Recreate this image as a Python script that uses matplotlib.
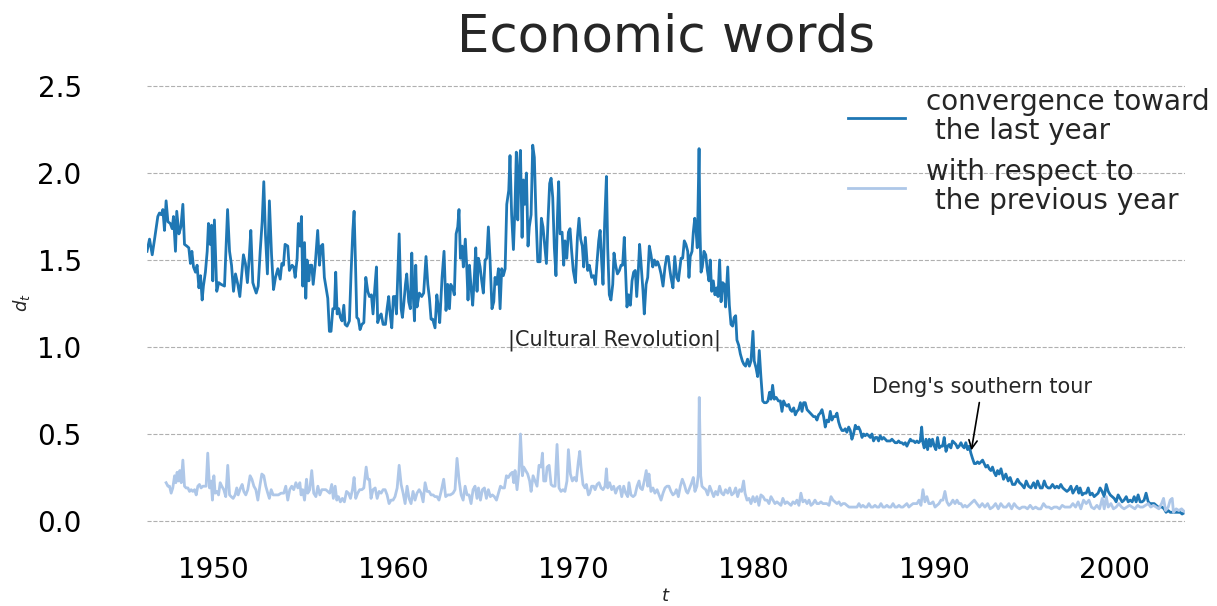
import matplotlib
matplotlib.use("Agg")
import matplotlib.pyplot as plt
from matplotlib.ticker import FormatStrFormatter

# Economic-word distance d_t, convergence toward the last year (dark series)
conv_years = [
    1946.33, 1946.47, 1946.62, 1946.75, 1946.93, 1947.02, 1947.12, 1947.21, 1947.30, 1947.39,
    1947.49, 1947.62, 1947.73, 1947.80, 1947.91, 1947.98, 1948.10, 1948.21, 1948.32, 1948.41,
    1948.54, 1948.65, 1948.74, 1948.82, 1948.91, 1949.02, 1949.11, 1949.21, 1949.30, 1949.39,
    1949.46, 1949.57, 1949.67, 1949.74, 1949.83, 1949.91, 1949.98, 1950.07, 1950.20, 1950.31,
    1950.44, 1950.63, 1950.80, 1950.91, 1951.02, 1951.13, 1951.24, 1951.37, 1951.48, 1951.59,
    1951.68, 1951.79, 1951.90, 1952.00, 1952.09, 1952.20, 1952.29, 1952.39, 1952.50, 1952.61,
    1952.72, 1952.81, 1952.90, 1953.01, 1953.12, 1953.24, 1953.35, 1953.46, 1953.59, 1953.72,
    1953.81, 1953.90, 1953.99, 1954.14, 1954.23, 1954.38, 1954.47, 1954.55,
    1954.66, 1954.73, 1954.82, 1954.90, 1954.97, 1955.07, 1955.14, 1955.21, 1955.31, 1955.38,
    1955.47, 1955.55, 1955.66, 1955.80, 1955.90, 1955.99, 1956.08, 1956.17, 1956.36, 1956.45,
    1956.54, 1956.64, 1956.73, 1956.80, 1956.88, 1956.97, 1957.06, 1957.15, 1957.25, 1957.32,
    1957.43, 1957.56, 1957.65, 1957.75, 1957.82, 1957.89, 1957.97, 1958.06, 1958.15, 1958.25,
    1958.36, 1958.47, 1958.58, 1958.67, 1958.78, 1958.87, 1958.97, 1959.06, 1959.13, 1959.22,
    1959.32, 1959.43, 1959.56, 1959.65, 1959.74, 1959.82, 1959.91, 1960.00, 1960.09, 1960.17,
    1960.24, 1960.32, 1960.43, 1960.50, 1960.57, 1960.67, 1960.74, 1960.85, 1960.94, 1961.02,
    1961.09, 1961.17, 1961.24, 1961.31, 1961.44, 1961.57, 1961.68, 1961.81, 1961.91, 1962.00,
    1962.09, 1962.18, 1962.31, 1962.41, 1962.50, 1962.57,
    1962.70, 1962.81, 1962.92, 1963.01, 1963.11, 1963.18, 1963.29, 1963.38, 1963.48, 1963.57,
    1963.64, 1963.72, 1963.81, 1963.88, 1963.99, 1964.07, 1964.14, 1964.22, 1964.31, 1964.40,
    1964.49, 1964.57, 1964.64, 1964.72, 1964.81, 1964.90, 1964.99, 1965.09, 1965.18, 1965.27,
    1965.36, 1965.47, 1965.57, 1965.64, 1965.73, 1965.83, 1965.92, 1966.01, 1966.10, 1966.20,
    1966.29, 1966.40, 1966.47, 1966.56, 1966.66, 1966.75, 1966.82, 1966.90, 1966.97, 1967.05,
    1967.14, 1967.21, 1967.29, 1967.38, 1967.47, 1967.54, 1967.64, 1967.73, 1967.82, 1967.91,
    1968.01, 1968.14, 1968.21, 1968.30, 1968.39, 1968.49, 1968.58, 1968.67, 1968.75, 1968.84,
    1968.93, 1969.02, 1969.10, 1969.17, 1969.25, 1969.36, 1969.45, 1969.52, 1969.62, 1969.71,
    1969.80, 1969.89, 1969.98, 1970.10, 1970.21, 1970.30, 1970.39, 1970.48, 1970.56, 1970.65,
    1970.78, 1970.87, 1971.00, 1971.11, 1971.21, 1971.30, 1971.39, 1971.47, 1971.56, 1971.63,
    1971.72, 1971.82, 1971.89, 1971.98, 1972.07, 1972.17, 1972.24, 1972.33, 1972.43, 1972.54,
    1972.63, 1972.72, 1972.81, 1972.89, 1972.96, 1973.05, 1973.15, 1973.24, 1973.33, 1973.42,
    1973.50, 1973.59, 1973.66, 1973.74, 1973.85, 1973.92, 1974.02, 1974.11, 1974.20, 1974.29,
    1974.39, 1974.48, 1974.57, 1974.66, 1974.76, 1974.85, 1974.96, 1975.07, 1975.16, 1975.25,
    1975.33, 1975.40, 1975.51, 1975.61, 1975.72, 1975.81, 1975.88, 1975.96, 1976.05, 1976.14,
    1976.23, 1976.33, 1976.40, 1976.47, 1976.57, 1976.64, 1976.72, 1976.79, 1976.86, 1976.96,
    1977.01, 1977.07, 1977.14, 1977.23, 1977.33, 1977.42, 1977.51, 1977.58, 1977.66, 1977.75,
    1977.84, 1977.94, 1978.01, 1978.10, 1978.18, 1978.27, 1978.36, 1978.43, 1978.55, 1978.64,
    1978.73,
    1978.82, 1978.91, 1978.99, 1979.06, 1979.16, 1979.25, 1979.36, 1979.45, 1979.54, 1979.65,
    1979.75, 1979.84, 1979.95, 1980.02, 1980.12, 1980.21, 1980.30, 1980.39, 1980.49, 1980.58,
    1980.69, 1980.78, 1980.87, 1980.95, 1981.04, 1981.13, 1981.24, 1981.36, 1981.47, 1981.56,
    1981.65, 1981.74, 1981.84, 1981.93, 1982.02, 1982.11, 1982.21, 1982.30, 1982.39, 1982.48,
    1982.58, 1982.67, 1982.76, 1982.85, 1982.95, 1983.04, 1983.13, 1983.22, 1983.31, 1983.41,
    1983.50, 1983.59, 1983.68, 1983.78, 1983.87, 1983.96, 1984.05, 1984.15, 1984.24, 1984.33,
    1984.42, 1984.52, 1984.61, 1984.70, 1984.79, 1984.89, 1984.98, 1985.07, 1985.16, 1985.26,
    1985.35, 1985.44, 1985.53, 1985.63, 1985.72, 1985.81, 1985.90, 1986.00, 1986.09, 1986.18,
    1986.27, 1986.37, 1986.46, 1986.55, 1986.64, 1986.74, 1986.83, 1986.92, 1987.01, 1987.11,
    1987.20, 1987.29, 1987.38, 1987.47, 1987.57, 1987.66, 1987.75, 1987.84, 1987.94, 1988.03,
    1988.12, 1988.21, 1988.31, 1988.40, 1988.49, 1988.58, 1988.68, 1988.77, 1988.86, 1988.95,
    1989.05, 1989.14, 1989.23, 1989.31, 1989.38, 1989.45, 1989.55, 1989.64, 1989.73, 1989.82,
    1989.91, 1990.01, 1990.10, 1990.19, 1990.29, 1990.38, 1990.47, 1990.56, 1990.66, 1990.75,
    1990.84, 1990.93, 1991.02, 1991.12, 1991.21, 1991.30, 1991.39, 1991.49, 1991.58, 1991.67,
    1991.76, 1991.86, 1991.95, 1992.04, 1992.13, 1992.23, 1992.32, 1992.41, 1992.50, 1992.60,
    1992.69, 1992.78, 1992.87, 1992.97, 1993.06, 1993.15, 1993.24, 1993.33, 1993.43, 1993.52,
    1993.61, 1993.71,
    1993.85, 1993.98, 1994.11, 1994.22, 1994.35, 1994.48, 1994.63, 1994.74, 1994.85, 1995.00,
    1995.11, 1995.24, 1995.37, 1995.52, 1995.63, 1995.74, 1995.89, 1996.00, 1996.11, 1996.22,
    1996.33, 1996.44, 1996.57, 1996.70, 1996.81, 1996.92, 1997.03, 1997.14, 1997.25, 1997.37,
    1997.48, 1997.59, 1997.70, 1997.81, 1997.92, 1998.03, 1998.10, 1998.22, 1998.33, 1998.44,
    1998.55, 1998.66, 1998.77, 1998.88, 1998.99, 1999.10, 1999.21, 1999.32, 1999.44, 1999.55,
    1999.66, 1999.77, 1999.88, 1999.99, 2000.10, 2000.21, 2000.32, 2000.43, 2000.54, 2000.66,
    2000.77, 2000.88, 2000.99, 2001.10, 2001.21, 2001.32, 2001.43, 2001.54, 2001.65, 2001.76,
    2001.88, 2001.99, 2002.10, 2002.21, 2002.32, 2002.43, 2002.54, 2002.65, 2002.76, 2002.87,
    2002.99, 2003.10, 2003.21, 2003.32, 2003.43, 2003.54, 2003.65, 2003.76, 2003.92,
]
conv_values = [
    1.55, 1.62, 1.53, 1.62, 1.75, 1.77, 1.76, 1.79, 1.67, 1.84,
    1.72, 1.71, 1.68, 1.75, 1.55, 1.78, 1.65, 1.69, 1.82, 1.59,
    1.58, 1.57, 1.48, 1.55, 1.46, 1.43, 1.47, 1.34, 1.41, 1.27,
    1.35, 1.43, 1.55, 1.71, 1.59, 1.70, 1.38, 1.73, 1.32, 1.37,
    1.36, 1.35, 1.79, 1.55, 1.47, 1.32, 1.42, 1.36, 1.29, 1.42,
    1.53, 1.48, 1.37, 1.51, 1.67, 1.37, 1.34, 1.31, 1.35, 1.55,
    1.72, 1.95, 1.65, 1.42, 1.84, 1.53, 1.33, 1.40, 1.45, 1.39,
    1.48, 1.47, 1.59, 1.58, 1.44, 1.47, 1.46, 1.40,
    1.51, 1.71, 1.58, 1.75, 1.35, 1.60, 1.28, 1.50, 1.38, 1.47,
    1.47, 1.36, 1.47, 1.67, 1.47, 1.58, 1.59, 1.40, 1.28, 1.09,
    1.09, 1.22, 1.22, 1.43, 1.19, 1.22, 1.17, 1.15, 1.24, 1.13,
    1.12, 1.15, 1.42, 1.67, 1.78, 1.51, 1.17, 1.16, 1.10, 1.13,
    1.14, 1.40, 1.32, 1.29, 1.30, 1.19, 1.34, 1.46, 1.14, 1.17,
    1.19, 1.13, 1.13, 1.22, 1.29, 1.19, 1.11, 1.29, 1.29, 1.19,
    1.40, 1.65, 1.22, 1.17, 1.24, 1.36, 1.42, 1.26, 1.22, 1.54,
    1.32, 1.15, 1.47, 1.23, 1.31, 1.29, 1.31, 1.52, 1.36, 1.28,
    1.16, 1.16, 1.11, 1.30, 1.22, 1.14,
    1.40, 1.55, 1.21, 1.36, 1.22, 1.36, 1.34, 1.30, 1.65, 1.69,
    1.79, 1.51, 1.58, 1.46, 1.62, 1.46, 1.27, 1.47, 1.34, 1.24,
    1.40, 1.57, 1.32, 1.51, 1.46, 1.38, 1.31, 1.50, 1.51, 1.69,
    1.51, 1.22, 1.26, 1.40, 1.36, 1.45, 1.22, 1.45, 1.41, 1.45,
    1.82, 1.90, 2.10, 1.76, 1.56, 1.82, 2.12, 1.73, 2.01, 2.13,
    1.63, 1.96, 1.82, 2.00, 1.58, 1.69, 1.76, 2.16, 2.09, 1.76,
    1.49, 1.49, 1.74, 1.69, 1.59, 1.48, 1.73, 1.94, 1.97, 1.86,
    1.57, 1.41, 1.74, 1.95, 1.65, 1.66, 1.47, 1.61, 1.51, 1.66,
    1.68, 1.55, 1.44, 1.37, 1.63, 1.74, 1.62, 1.58, 1.46, 1.63,
    1.44, 1.47, 1.40, 1.41, 1.36, 1.49, 1.61, 1.67, 1.48, 1.36,
    1.71, 1.98, 1.57, 1.30, 1.27, 1.36, 1.54, 1.47, 1.42, 1.44,
    1.47, 1.47, 1.63, 1.42, 1.23, 1.30, 1.24, 1.38, 1.43, 1.44,
    1.29, 1.44, 1.59, 1.48, 1.32, 1.19, 1.36, 1.40, 1.58, 1.53,
    1.46, 1.50, 1.47, 1.49, 1.46, 1.42, 1.35, 1.46, 1.52, 1.52,
    1.45, 1.40, 1.34, 1.52, 1.40, 1.38, 1.44, 1.51, 1.51, 1.61,
    1.59, 1.55, 1.40, 1.52, 1.55, 1.66, 1.74, 1.67, 1.57, 2.14,
    1.67, 1.43, 1.46, 1.55, 1.53, 1.44, 1.38, 1.50, 1.32, 1.38,
    1.30, 1.34, 1.29, 1.50, 1.26, 1.37, 1.36, 1.23, 1.46, 1.24,
    1.13,
    1.12, 1.17, 1.18, 1.04, 1.01, 0.96, 0.92, 0.90, 0.89, 0.93,
    0.89, 0.92, 1.09, 0.92, 0.88, 0.83, 0.98, 0.83, 0.69, 0.68,
    0.68, 0.69, 0.74, 0.70, 0.78, 0.70, 0.71, 0.69, 0.69, 0.63,
    0.69, 0.67, 0.66, 0.67, 0.64, 0.63, 0.65, 0.61, 0.63, 0.64,
    0.68, 0.63, 0.68, 0.68, 0.64, 0.63, 0.62, 0.61, 0.60, 0.60,
    0.58, 0.61, 0.62, 0.64, 0.60, 0.54, 0.58, 0.57, 0.63, 0.58,
    0.60, 0.60, 0.62, 0.57, 0.54, 0.52, 0.52, 0.53, 0.51, 0.54,
    0.52, 0.47, 0.50, 0.55, 0.53, 0.54, 0.52, 0.48, 0.50, 0.49,
    0.50, 0.49, 0.48, 0.50, 0.46, 0.48, 0.48, 0.46, 0.49, 0.47,
    0.48, 0.47, 0.46, 0.46, 0.46, 0.47, 0.46, 0.45, 0.45, 0.46,
    0.45, 0.45, 0.44, 0.45, 0.43, 0.45, 0.47, 0.46, 0.46, 0.45,
    0.46, 0.45, 0.46, 0.54, 0.45, 0.42, 0.47, 0.41, 0.47, 0.43,
    0.47, 0.43, 0.41, 0.48, 0.42, 0.43, 0.43, 0.48, 0.40, 0.43,
    0.44, 0.42, 0.46, 0.45, 0.44, 0.42, 0.43, 0.45, 0.43, 0.42,
    0.45, 0.41, 0.43, 0.39, 0.36, 0.33, 0.33, 0.34, 0.33, 0.34,
    0.35, 0.33, 0.31, 0.32, 0.30, 0.29, 0.31, 0.28, 0.26, 0.29,
    0.27, 0.30,
    0.24, 0.27, 0.23, 0.25, 0.21, 0.21, 0.24, 0.22, 0.21, 0.19,
    0.23, 0.20, 0.19, 0.22, 0.19, 0.23, 0.19, 0.19, 0.23, 0.20,
    0.19, 0.19, 0.21, 0.19, 0.20, 0.19, 0.21, 0.19, 0.18, 0.17,
    0.18, 0.20, 0.16, 0.18, 0.20, 0.16, 0.19, 0.15, 0.16, 0.16,
    0.19, 0.15, 0.16, 0.14, 0.15, 0.16, 0.19, 0.17, 0.14, 0.21,
    0.17, 0.15, 0.14, 0.13, 0.11, 0.15, 0.13, 0.11, 0.12, 0.14,
    0.11, 0.12, 0.11, 0.14, 0.11, 0.15, 0.11, 0.11, 0.12, 0.16,
    0.11, 0.10, 0.10, 0.10, 0.09, 0.08, 0.08, 0.08, 0.07, 0.05,
    0.06, 0.05, 0.05, 0.05, 0.05, 0.05, 0.05, 0.04, 0.05,
]

# Distance with respect to the previous year (light series)
prev_years = [
    1947.39, 1947.49, 1947.58, 1947.67, 1947.76, 1947.86, 1947.93, 1948.00, 1948.08, 1948.15,
    1948.23, 1948.32, 1948.41, 1948.50, 1948.60, 1948.69, 1948.78, 1948.87, 1948.97, 1949.06,
    1949.15, 1949.24, 1949.33, 1949.43, 1949.52, 1949.61, 1949.70, 1949.80, 1949.89, 1949.96,
    1950.04, 1950.11, 1950.20, 1950.30, 1950.39, 1950.48, 1950.59, 1950.70, 1950.81, 1950.91,
    1951.00, 1951.11, 1951.22, 1951.31, 1951.39, 1951.52, 1951.61, 1951.70, 1951.81, 1951.92,
    1952.05, 1952.15, 1952.26, 1952.37, 1952.48, 1952.59, 1952.70, 1952.81, 1952.92, 1953.03,
    1953.12, 1953.22, 1953.33, 1953.48, 1953.62, 1953.77, 1953.92, 1954.03, 1954.14, 1954.25,
    1954.36, 1954.47, 1954.59, 1954.70, 1954.81, 1954.88, 1954.97, 1955.07, 1955.18, 1955.25,
    1955.36, 1955.47, 1955.58, 1955.70, 1955.81, 1955.92, 1956.03, 1956.14, 1956.25, 1956.36,
    1956.47, 1956.58, 1956.67, 1956.77, 1956.86, 1956.95, 1957.06, 1957.17, 1957.28, 1957.40,
    1957.51, 1957.62, 1957.73, 1957.82, 1957.91, 1958.02, 1958.13, 1958.25, 1958.36, 1958.49,
    1958.58, 1958.67, 1958.76, 1958.87, 1958.99, 1959.10, 1959.21, 1959.32, 1959.43, 1959.54,
    1959.65, 1959.76, 1959.87, 1959.98, 1960.09, 1960.21, 1960.32, 1960.43, 1960.54, 1960.65,
    1960.76, 1960.87, 1960.98, 1961.09, 1961.20, 1961.31, 1961.43, 1961.54, 1961.65, 1961.76,
    1961.87, 1961.98, 1962.09, 1962.20, 1962.31, 1962.42, 1962.53, 1962.65, 1962.79, 1962.90,
    1963.02, 1963.16, 1963.31, 1963.42, 1963.53, 1963.65, 1963.76, 1963.87, 1963.98, 1964.09,
    1964.20, 1964.31, 1964.42, 1964.53, 1964.64, 1964.72, 1964.83, 1964.94, 1965.05, 1965.16,
    1965.27, 1965.38, 1965.49, 1965.60, 1965.72, 1965.83, 1965.94, 1966.05, 1966.16, 1966.27,
    1966.38, 1966.49, 1966.60, 1966.68, 1966.75, 1966.86, 1966.97, 1967.05, 1967.16, 1967.23,
    1967.34, 1967.45, 1967.56, 1967.64, 1967.75, 1967.86, 1967.97, 1968.08, 1968.19,
    1968.27, 1968.34, 1968.45, 1968.53, 1968.64, 1968.75, 1968.86, 1968.97, 1969.08, 1969.19,
    1969.30, 1969.41, 1969.52, 1969.63, 1969.71, 1969.82, 1969.93, 1970.04, 1970.15, 1970.26,
    1970.34, 1970.41, 1970.52, 1970.63, 1970.71, 1970.82, 1970.89, 1971.00, 1971.11, 1971.19,
    1971.30, 1971.41, 1971.52, 1971.63, 1971.74, 1971.82, 1971.89, 1972.00, 1972.11, 1972.22,
    1972.33, 1972.44, 1972.56, 1972.67, 1972.78, 1972.89, 1973.00, 1973.07, 1973.18, 1973.30,
    1973.41, 1973.52, 1973.63, 1973.70, 1973.81, 1973.92, 1974.03, 1974.11, 1974.18, 1974.29,
    1974.40, 1974.51, 1974.63, 1974.74, 1974.85, 1974.96, 1975.07, 1975.18, 1975.29, 1975.40,
    1975.51, 1975.62, 1975.70, 1975.81, 1975.92, 1976.03, 1976.14, 1976.25, 1976.33, 1976.44,
    1976.55, 1976.64, 1976.73, 1976.84, 1976.92, 1976.97, 1977.05, 1977.12, 1977.21, 1977.33,
    1977.44, 1977.55, 1977.66, 1977.77, 1977.88, 1977.99, 1978.10, 1978.21, 1978.32, 1978.43,
    1978.55, 1978.66, 1978.77, 1978.88, 1978.99, 1979.10, 1979.21, 1979.32, 1979.43, 1979.51,
    1979.62, 1979.73, 1979.84, 1979.95, 1980.06, 1980.17, 1980.28, 1980.39, 1980.51, 1980.62,
    1980.73, 1980.84, 1980.95, 1981.06, 1981.17, 1981.28, 1981.39, 1981.50, 1981.61, 1981.73,
    1981.84, 1981.95, 1982.06, 1982.17, 1982.28, 1982.39, 1982.50, 1982.61, 1982.72, 1982.84,
    1982.95, 1983.06, 1983.17, 1983.28, 1983.39, 1983.50, 1983.61, 1983.72, 1983.83, 1983.94,
    1984.05, 1984.17, 1984.28, 1984.39, 1984.50, 1984.61, 1984.72, 1984.83, 1984.94, 1985.05,
    1985.16, 1985.28, 1985.39, 1985.50, 1985.61, 1985.72, 1985.83, 1985.94, 1986.05, 1986.16,
    1986.27, 1986.38, 1986.50, 1986.61, 1986.72, 1986.83, 1986.94, 1987.05, 1987.16, 1987.27,
    1987.38, 1987.49, 1987.60, 1987.72, 1987.83, 1987.94, 1988.05, 1988.16, 1988.27, 1988.38,
    1988.49, 1988.60, 1988.71, 1988.83, 1988.94, 1989.05, 1989.16, 1989.27, 1989.38, 1989.49,
    1989.60, 1989.71, 1989.82, 1989.94, 1990.05, 1990.16, 1990.27, 1990.38, 1990.49, 1990.60,
    1990.71, 1990.82, 1990.93, 1991.04, 1991.16, 1991.27, 1991.38, 1991.49, 1991.60, 1991.71,
    1991.82, 1991.93,
    1992.23, 1992.37, 1992.52, 1992.67, 1992.82, 1992.97, 1993.11, 1993.26, 1993.41, 1993.56,
    1993.70, 1993.85, 1994.00, 1994.15, 1994.30, 1994.44, 1994.59, 1994.74, 1994.89, 1995.04,
    1995.18, 1995.33, 1995.48, 1995.63, 1995.78, 1995.92, 1996.07, 1996.22, 1996.37, 1996.51,
    1996.66, 1996.81, 1996.96, 1997.11, 1997.25, 1997.40, 1997.55, 1997.70, 1997.85, 1997.99,
    1998.14, 1998.29, 1998.44, 1998.59, 1998.73, 1998.88, 1999.03, 1999.18, 1999.33, 1999.44,
    1999.55, 1999.66, 1999.81, 1999.95, 2000.10, 2000.25, 2000.40, 2000.54, 2000.69, 2000.84,
    2000.99, 2001.14, 2001.29, 2001.43, 2001.58, 2001.73, 2001.88, 2002.02, 2002.17, 2002.32,
    2002.47, 2002.62, 2002.73, 2002.84, 2002.99, 2003.10, 2003.21, 2003.28, 2003.43, 2003.58,
    2003.73, 2003.92,
]
prev_values = [
    0.22, 0.20, 0.20, 0.16, 0.19, 0.26, 0.22, 0.28, 0.23, 0.29,
    0.22, 0.35, 0.20, 0.19, 0.19, 0.17, 0.18, 0.17, 0.18, 0.15,
    0.20, 0.21, 0.19, 0.20, 0.20, 0.20, 0.39, 0.19, 0.23, 0.12,
    0.26, 0.16, 0.17, 0.15, 0.22, 0.20, 0.18, 0.14, 0.32, 0.15,
    0.14, 0.13, 0.15, 0.19, 0.15, 0.19, 0.21, 0.17, 0.15, 0.18,
    0.26, 0.24, 0.20, 0.18, 0.12, 0.20, 0.27, 0.26, 0.20, 0.16,
    0.13, 0.18, 0.15, 0.15, 0.15, 0.16, 0.16, 0.20, 0.12, 0.18,
    0.20, 0.18, 0.22, 0.19, 0.22, 0.15, 0.18, 0.12, 0.24, 0.16,
    0.18, 0.29, 0.16, 0.14, 0.20, 0.15, 0.18, 0.18, 0.18, 0.17,
    0.16, 0.21, 0.13, 0.20, 0.12, 0.14, 0.11, 0.13, 0.11, 0.17,
    0.16, 0.13, 0.18, 0.25, 0.13, 0.16, 0.18, 0.18, 0.19, 0.31,
    0.24, 0.24, 0.13, 0.18, 0.19, 0.13, 0.17, 0.16, 0.18, 0.18,
    0.15, 0.10, 0.12, 0.12, 0.14, 0.19, 0.32, 0.21, 0.16, 0.10,
    0.20, 0.13, 0.10, 0.17, 0.12, 0.16, 0.18, 0.16, 0.11, 0.22,
    0.17, 0.17, 0.15, 0.15, 0.14, 0.14, 0.12, 0.17, 0.24, 0.14,
    0.15, 0.15, 0.16, 0.18, 0.36, 0.23, 0.15, 0.12, 0.20, 0.15,
    0.15, 0.10, 0.18, 0.20, 0.13, 0.19, 0.12, 0.18, 0.19, 0.13,
    0.18, 0.14, 0.15, 0.14, 0.12, 0.16, 0.20, 0.19, 0.19, 0.26,
    0.25, 0.27, 0.28, 0.22, 0.29, 0.18, 0.29, 0.50, 0.26, 0.31,
    0.29, 0.27, 0.23, 0.17, 0.26, 0.23, 0.20, 0.32, 0.31,
    0.39, 0.23, 0.23, 0.31, 0.32, 0.21, 0.20, 0.20, 0.44, 0.19,
    0.17, 0.18, 0.17, 0.23, 0.41, 0.27, 0.23, 0.25, 0.23, 0.34,
    0.40, 0.31, 0.21, 0.19, 0.21, 0.15, 0.16, 0.20, 0.20, 0.18,
    0.21, 0.22, 0.19, 0.18, 0.20, 0.30, 0.19, 0.22, 0.18, 0.20,
    0.16, 0.19, 0.20, 0.14, 0.20, 0.16, 0.14, 0.22, 0.15, 0.14,
    0.15, 0.20, 0.23, 0.19, 0.18, 0.23, 0.29, 0.20, 0.27, 0.17,
    0.19, 0.16, 0.18, 0.15, 0.12, 0.16, 0.19, 0.20, 0.20, 0.17,
    0.15, 0.16, 0.18, 0.14, 0.20, 0.24, 0.21, 0.17, 0.16, 0.19,
    0.22, 0.25, 0.17, 0.20, 0.27, 0.71, 0.26, 0.20, 0.19, 0.18,
    0.15, 0.20, 0.17, 0.14, 0.17, 0.15, 0.20, 0.16, 0.15, 0.18,
    0.16, 0.19, 0.15, 0.16, 0.19, 0.14, 0.18, 0.17, 0.23, 0.16,
    0.12, 0.13, 0.10, 0.14, 0.11, 0.14, 0.09, 0.15, 0.14, 0.12,
    0.12, 0.10, 0.14, 0.12, 0.10, 0.11, 0.10, 0.09, 0.13, 0.10,
    0.11, 0.10, 0.09, 0.11, 0.10, 0.12, 0.09, 0.16, 0.11, 0.12,
    0.10, 0.12, 0.09, 0.10, 0.12, 0.10, 0.10, 0.11, 0.10, 0.10,
    0.10, 0.09, 0.14, 0.12, 0.11, 0.10, 0.11, 0.09, 0.10, 0.10,
    0.09, 0.08, 0.08, 0.08, 0.08, 0.08, 0.10, 0.08, 0.09, 0.08,
    0.08, 0.10, 0.08, 0.08, 0.09, 0.08, 0.08, 0.10, 0.08, 0.08,
    0.09, 0.08, 0.08, 0.10, 0.08, 0.08, 0.09, 0.08, 0.08, 0.09,
    0.10, 0.08, 0.09, 0.10, 0.10, 0.10, 0.12, 0.09, 0.18, 0.11,
    0.14, 0.10, 0.10, 0.11, 0.08, 0.09, 0.10, 0.12, 0.12, 0.17,
    0.11, 0.09, 0.10, 0.12, 0.10, 0.12, 0.10, 0.10, 0.08, 0.09,
    0.08, 0.09,
    0.12, 0.10, 0.08, 0.10, 0.08, 0.10, 0.07, 0.08, 0.10, 0.07,
    0.10, 0.08, 0.08, 0.10, 0.07, 0.10, 0.08, 0.07, 0.08, 0.08,
    0.07, 0.09, 0.07, 0.08, 0.07, 0.07, 0.10, 0.08, 0.08, 0.07,
    0.08, 0.08, 0.07, 0.09, 0.08, 0.08, 0.08, 0.10, 0.08, 0.11,
    0.07, 0.12, 0.10, 0.12, 0.08, 0.07, 0.09, 0.07, 0.13, 0.07,
    0.14, 0.08, 0.10, 0.07, 0.08, 0.10, 0.08, 0.07, 0.08, 0.09,
    0.08, 0.07, 0.09, 0.08, 0.08, 0.09, 0.10, 0.08, 0.09, 0.08,
    0.07, 0.10, 0.13, 0.06, 0.08, 0.12, 0.13, 0.05, 0.07, 0.06,
    0.07, 0.05,
]

series_labels = ["convergence toward\n the last year", "with respect to\n the previous year"]
year_ticks = [1950, 1960, 1970, 1980, 1990, 2000]
value_ticks = [0.0, 0.5, 1.0, 1.5, 2.0, 2.5]

TEXT = "#262626"
W, H = 1217, 606

fig = plt.figure(figsize=(W / 100, H / 100), dpi=100)
ax = fig.add_axes([147 / W, 1 - 538.4 / H, (1185 - 147) / W, (538.4 - 68.6) / H])

ax.plot(conv_years, conv_values, color="#1f77b4", lw=2.0, label=series_labels[0])
ax.plot(prev_years, prev_values, color="#aec7e8", lw=2.0, label=series_labels[1])

ax.set_xlim(conv_years[0], conv_years[-1])
ax.set_ylim(-0.1, 2.6)
ax.set_xticks(year_ticks)
ax.set_yticks(value_ticks)
ax.yaxis.set_major_formatter(FormatStrFormatter("%.1f"))

ax.grid(axis="y", linestyle="--", color="#b0b0b0", linewidth=0.8)
ax.grid(axis="x", visible=False)
ax.set_axisbelow(True)
for spine in ax.spines.values():
    spine.set_visible(False)
ax.tick_params(axis="both", length=0, labelsize=20, labelcolor="black")
ax.tick_params(axis="y", pad=47)
ax.tick_params(axis="x", pad=12.5)

fig.text(666 / W, 1 - 38 / H, "Economic words", ha="center", va="center",
         fontsize=37, color=TEXT)
fig.text(666 / W, 1 - 596 / H, "$t$", ha="center", va="center", fontsize=13, color=TEXT)
fig.text(22 / W, 1 - 303 / H, "$d_t$", ha="center", va="center", fontsize=13,
         color=TEXT, rotation=90)

ax.text(1966.35, 1.04, "|Cultural Revolution|", ha="left", va="center",
        fontsize=15, color=TEXT)
ax.annotate("Deng's southern tour", xy=(1992.04, 0.39), xytext=(1986.55, 0.77),
            ha="left", va="center", fontsize=15, color=TEXT,
            arrowprops=dict(arrowstyle="->", color="black", lw=1.2))

leg = ax.legend(loc="upper left", bbox_to_anchor=(848 / W, 1 - 88 / H),
                bbox_transform=fig.transFigure, frameon=False, fontsize=20,
                handlelength=2.06, handletextpad=0.76, borderpad=0,
                borderaxespad=0, labelspacing=0.47)
for txt in leg.get_texts():
    txt.set_color(TEXT)
    txt.set_linespacing(1.05)

fig.savefig("out.png", dpi=100)
